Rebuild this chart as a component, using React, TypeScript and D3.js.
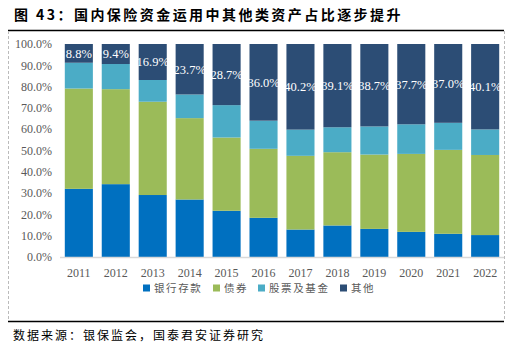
import React from "react";
import * as d3 from "d3";

const years = ["2011","2012","2013","2014","2015","2016","2017","2018","2019","2020","2021","2022"];
const deposits = [32.0, 34.2, 29.1, 27.0, 21.7, 18.4, 12.9, 14.8, 13.2, 11.8, 10.9, 10.3];
const bonds = [47.1, 44.6, 43.8, 38.2, 34.4, 32.4, 34.6, 34.4, 34.9, 36.6, 39.4, 37.6];
const stocks = [12.1, 11.8, 10.2, 11.1, 15.2, 13.2, 12.3, 11.7, 13.2, 13.9, 12.7, 12.0];
const others = [8.8, 9.4, 16.9, 23.7, 28.7, 36.0, 40.2, 39.1, 38.7, 37.7, 37.0, 40.1];
const seriesNames = ["银行存款", "债券", "股票及基金", "其他"];
const colors = ["#0070C0", "#9BBB59", "#4BACC6", "#2C4D75"];
const yTicks = [0, 10, 20, 30, 40, 50, 60, 70, 80, 90, 100];
const title = "图 43：国内保险资金运用中其他类资产占比逐步提升";
const source = "数据来源：银保监会，国泰君安证券研究";

export default function App() {
  const W = 522, H = 352;
  const x = d3.scaleBand<string>().domain(years).range([60, 504]).paddingInner(0.24).paddingOuter(0.13);
  const y = d3.scaleLinear().domain([0, 100]).range([257, 44]);
  const rows = years.map((yr, i) => ({ year: yr, s0: deposits[i], s1: bonds[i], s2: stocks[i], s3: others[i] }));
  const stack = d3.stack<any>().keys(["s0", "s1", "s2", "s3"]);
  const layers = stack(rows);
  const serif = "'Liberation Serif', 'Times New Roman', serif";
  const cjk = "'Noto Sans CJK SC', sans-serif";
  const legendX = [143, 213, 258, 340];

  return (
    <svg width={W} height={H} style={{ position: "absolute", left: 0, top: 0 }}>
      <rect x={0} y={0} width={W} height={H} fill="#fff" />
      <text x={14} y={20} fontFamily={cjk} fontWeight="bold" fontSize={14} letterSpacing={2.45} fill="#000">{title}</text>
      <line x1={8} x2={504} y1={30.5} y2={30.5} stroke="#000" strokeWidth={1.5} />
      <line x1={8.5} x2={8.5} y1={31} y2={321} stroke="#bbb" strokeDasharray="3,2" />
      <line x1={504.5} x2={504.5} y1={31} y2={321} stroke="#bbb" strokeDasharray="3,2" />
      <line x1={8} x2={504} y1={321.5} y2={321.5} stroke="#000" strokeWidth={1.5} />
      {yTicks.map(t => (
        <text key={t} x={52} y={y(t)} dy="0.35em" textAnchor="end" fontFamily={serif} fontSize={12} fill="#595959">{t.toFixed(1)}%</text>
      ))}
      {layers.map((layer, li) => (
        <g key={li} fill={colors[li]}>
          {layer.map((d: any) => (
            <rect key={d.data.year} x={x(d.data.year)} y={y(d[1])} width={x.bandwidth()} height={y(d[0]) - y(d[1])} />
          ))}
        </g>
      ))}
      <line x1={60} x2={504} y1={257.5} y2={257.5} stroke="#D9D9D9" strokeWidth={1.5} />
      {layers[3].map((d: any) => (
        <text key={d.data.year} x={(x(d.data.year) as number) + x.bandwidth() / 2} y={(y(d[0]) + y(d[1])) / 2} dy="0.35em"
          textAnchor="middle" fontFamily={serif} fontSize={12.5} fill="#fff">{d.data.s3.toFixed(1)}%</text>
      ))}
      {years.map(yr => (
        <text key={yr} x={(x(yr) as number) + x.bandwidth() / 2} y={273} dy="0.35em" textAnchor="middle" fontFamily={serif} fontSize={12} fill="#595959">{yr}</text>
      ))}
      {seriesNames.map((n, i) => (
        <g key={n}>
          <rect x={legendX[i]} y={284.5} width={7} height={7} fill={colors[i]} />
          <text x={legendX[i] + 11} y={288} dy="0.35em" fontFamily={cjk} fontSize={10.5} letterSpacing={1.6} fill="#595959">{n}</text>
        </g>
      ))}
      <text x={13} y={336} dy="0.35em" fontFamily={cjk} fontSize={12} letterSpacing={2.0} fill="#000">{source}</text>
    </svg>
  );
}
